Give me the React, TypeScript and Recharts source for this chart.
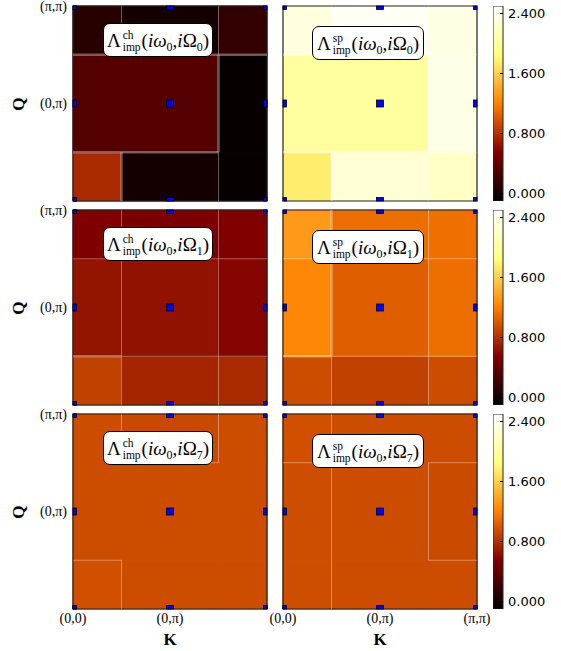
import React from 'react';
import { ScatterChart, Scatter, BarChart, Bar, XAxis, YAxis, ReferenceArea, ReferenceLine } from 'recharts';

// ─── Λ_imp vertex heat maps ──────────────────────────────────────
// 3x3 grid of K / Q points, afmhot colour map, one colorbar per row.

const kPos = [0, 0.5, 1];
const qPos = [0, 0.5, 1];
const kLabels = ['(0,0)', '(0,π)', '(π,π)'];
const qLabels = ['(0,0)', '(0,π)', '(π,π)'];

// rows: Q = (0,0), (0,π), (π,π) ; columns: K = (0,0), (0,π), (π,π)
const chOmega0 = [
  [0.76, 0.0, -0.07],
  [0.33, 0.33, -0.07],
  [0.1, 0.0, 0.16],
];
const spOmega0 = [
  [1.76, 2.29, 2.21],
  [2.01, 2.01, 2.37],
  [2.34, 2.45, 2.36],
];
const chOmega1 = [
  [0.88, 0.74, 0.76],
  [0.65, 0.64, 0.58],
  [0.54, 0.53, 0.55],
];
const spOmega1 = [
  [0.94, 0.88, 0.94],
  [1.24, 1.03, 1.11],
  [1.33, 1.11, 1.12],
];
const chOmega7 = [
  [0.96, 0.94, 0.94],
  [0.94, 0.94, 0.94],
  [0.94, 0.92, 0.94],
];
const spOmega7 = [
  [0.95, 0.94, 0.94],
  [0.95, 0.94, 0.93],
  [0.96, 0.94, 0.94],
];

const cbTicks = [0, 0.8, 1.6, 2.4];
const cbRange = [-0.1, 2.5];
const cbData = [{ name: 'Λ', range: cbRange }];

// layout
const PANEL_X = [73, 283];
const PANEL_Y = [6, 210, 414];
const W = 194;
const H = 195;
const CB_X = 493;
const CB_W = 10;
const TOP = 10;
const SERIF = '"Liberation Serif", "DejaVu Serif", serif';
const SANS = '"DejaVu Sans", sans-serif';

const panels = [
  { row: 0, col: 0, values: chOmega0, channel: 'ch', omega: '0' },
  { row: 0, col: 1, values: spOmega0, channel: 'sp', omega: '0' },
  { row: 1, col: 0, values: chOmega1, channel: 'ch', omega: '1' },
  { row: 1, col: 1, values: spOmega1, channel: 'sp', omega: '1' },
  { row: 2, col: 0, values: chOmega7, channel: 'ch', omega: '7' },
  { row: 2, col: 1, values: spOmega7, channel: 'sp', omega: '7' },
];

const clip01 = (v: number) => Math.max(0, Math.min(1, v));

// matplotlib afmhot
function afmhot(v: number) {
  const x = clip01((v - cbRange[0]) / (cbRange[1] - cbRange[0]));
  const r = Math.round(clip01(2 * x) * 255);
  const g = Math.round(clip01(2 * x - 0.5) * 255);
  const b = Math.round(clip01(2 * x - 1) * 255);
  return `rgb(${r},${g},${b})`;
}

// cell edges: half way between neighbouring points, clipped at the ends
const edges = (pos: number[]) =>
  pos.map((p, i) => [
    i === 0 ? p : (pos[i - 1] + p) / 2,
    i === pos.length - 1 ? p : (p + pos[i + 1]) / 2,
  ]);
const kEdges = edges(kPos);
const qEdges = edges(qPos);

const points = qPos.flatMap((q) => kPos.map((k) => ({ k, q })));

function seamStyle(diff: number) {
  return {
    stroke: 'rgba(255,255,255,0.35)',
    strokeWidth: diff > 0.2 ? 2.5 : 1,
  };
}

function Seams({ values }: { values: number[][] }) {
  const out: React.ReactNode[] = [];
  values.forEach((row, r) => {
    row.forEach((v, c) => {
      if (c < row.length - 1) {
        const d = Math.abs(v - row[c + 1]);
        if (d > 0.005) {
          const x = kEdges[c][1];
          out.push(
            <ReferenceLine
              key={`v${r}${c}`}
              segment={[{ x, y: qEdges[r][0] }, { x, y: qEdges[r][1] }]}
              {...seamStyle(d)}
            />
          );
        }
      }
      if (r < values.length - 1) {
        const d = Math.abs(v - values[r + 1][c]);
        if (d > 0.005) {
          const y = qEdges[r][1];
          out.push(
            <ReferenceLine
              key={`h${r}${c}`}
              segment={[{ x: kEdges[c][0], y }, { x: kEdges[c][1], y }]}
              {...seamStyle(d)}
            />
          );
        }
      }
    });
  });
  return out;
}

function TitleBox({ left, top, width, channel, omega }: any) {
  const sub: React.CSSProperties = { fontSize: 12, position: 'relative', top: 4 };
  return (
    <div
      style={{
        position: 'absolute',
        left,
        top,
        width,
        height: 34,
        boxSizing: 'border-box',
        border: '1px solid #000',
        borderRadius: 7,
        background: '#fff',
        display: 'flex',
        alignItems: 'center',
        justifyContent: 'center',
        fontFamily: SERIF,
        fontSize: 19,
        color: '#000',
        whiteSpace: 'nowrap',
        lineHeight: 1,
      }}
    >
      <span>Λ</span>
      <span
        style={{
          display: 'inline-flex',
          flexDirection: 'column',
          fontSize: 11.5,
          lineHeight: '12px',
          margin: '0 1px 0 2px',
          position: 'relative',
          top: 1,
        }}
      >
        <span>{channel}</span>
        <span>imp</span>
      </span>
      <span>
        (<i>iω</i>
        <span style={sub}>0</span>,<i>i</i>Ω<span style={sub}>{omega}</span>)
      </span>
    </div>
  );
}

function Panel({ row, col, values, channel, omega }: any) {
  const yw = col === 0 ? 70 : 20;
  const xh = row === 2 ? 30 : 1;
  const left = PANEL_X[col];
  const top = PANEL_Y[row];
  const showK = (i: number) => row === 2 && (col === 1 || i < 2);
  const showQ = (i: number) => col === 0 && i > 0;

  // blue K/Q markers, cut off at the frame like the original
  const marker = (p: any) => {
    const s = 3.5;
    const x0 = Math.max(p.cx - s, yw);
    const x1 = Math.min(p.cx + s, yw + W);
    const y0 = Math.max(p.cy - s, TOP);
    const y1 = Math.min(p.cy + s, TOP + H);
    return (
      <rect x={x0} y={y0} width={x1 - x0} height={y1 - y0} fill="#0000ff" stroke="#000" strokeWidth={0.8} />
    );
  };

  return (
    <div style={{ position: 'absolute', left: left - yw, top: top - TOP }}>
      <ScatterChart
        width={yw + W + 20}
        height={TOP + H + xh + 5}
        margin={{ top: TOP, right: 20, bottom: 5, left: 0 }}
      >
        <XAxis
          type="number"
          dataKey="k"
          domain={[0, 1]}
          ticks={kPos}
          interval={0}
          height={xh}
          tickSize={-4}
          tickMargin={8}
          axisLine={false}
          tickLine={{ stroke: '#000' }}
          tick={row === 2 ? { fill: '#000', fontSize: 14, fontFamily: SERIF } : false}
          tickFormatter={(v: number) => {
            const i = kPos.indexOf(v);
            return showK(i) ? kLabels[i] : '';
          }}
        />
        <XAxis
          xAxisId="top"
          orientation="top"
          mirror
          type="number"
          domain={[0, 1]}
          ticks={kPos}
          interval={0}
          tickSize={4}
          axisLine={false}
          tick={false}
          tickLine={{ stroke: '#000' }}
        />
        <YAxis
          type="number"
          dataKey="q"
          domain={[0, 1]}
          ticks={qPos}
          interval={0}
          width={yw}
          tickSize={-4}
          tickMargin={10}
          axisLine={false}
          tickLine={{ stroke: '#000' }}
          tick={col === 0 ? { fill: '#000', fontSize: 14, fontFamily: SERIF } : false}
          tickFormatter={(v: number) => {
            const i = qPos.indexOf(v);
            return showQ(i) ? qLabels[i] : '';
          }}
        />
        <YAxis
          yAxisId="right"
          orientation="right"
          mirror
          type="number"
          domain={[0, 1]}
          ticks={qPos}
          interval={0}
          tickSize={4}
          axisLine={false}
          tick={false}
          tickLine={{ stroke: '#000' }}
        />
        {values.map((rowVals: number[], r: number) =>
          rowVals.map((v, c) => (
            <ReferenceArea
              key={`c${r}${c}`}
              x1={kEdges[c][0]}
              x2={kEdges[c][1]}
              y1={qEdges[r][0]}
              y2={qEdges[r][1]}
              fill={afmhot(v)}
              fillOpacity={1}
              stroke={afmhot(v)}
              strokeWidth={1}
            />
          ))
        )}
        {Seams({ values })}
        <ReferenceArea x1={0} x2={1} y1={0} y2={1} fill="none" stroke="#222" strokeWidth={1.2} />
        <Scatter data={points} shape={marker} isAnimationActive={false} />
      </ScatterChart>
      <TitleBox
        left={yw + (col === 0 ? 30 : 29)}
        top={TOP + (col === 0 ? 17 : 20)}
        width={col === 0 ? 110 : 112}
        channel={channel}
        omega={omega}
      />
    </div>
  );
}

function ColorBar({ row }: { row: number }) {
  const top = PANEL_Y[row];
  const id = `afmhot-${row}`;
  return (
    <div style={{ position: 'absolute', left: CB_X, top: top - TOP }}>
      <BarChart
        width={CB_W + 60}
        height={TOP + H + 5}
        data={cbData}
        margin={{ top: TOP, right: 0, bottom: 5, left: 0 }}
        barCategoryGap={0}
      >
        <defs>
          <linearGradient id={id} x1="0" y1="1" x2="0" y2="0">
            <stop offset="0%" stopColor="rgb(0,0,0)" />
            <stop offset="25%" stopColor="rgb(128,0,0)" />
            <stop offset="50%" stopColor="rgb(255,128,0)" />
            <stop offset="75%" stopColor="rgb(255,255,128)" />
            <stop offset="100%" stopColor="rgb(255,255,255)" />
          </linearGradient>
        </defs>
        <XAxis dataKey="name" hide />
        <YAxis
          type="number"
          orientation="right"
          domain={cbRange}
          ticks={cbTicks}
          allowDataOverflow
          width={60}
          tickSize={-3}
          tickMargin={8}
          axisLine={false}
          tickLine={{ stroke: '#000' }}
          tick={{ fill: '#000', fontSize: 13, fontFamily: SANS }}
          tickFormatter={(v: number) => v.toFixed(3)}
        />
        <Bar
          dataKey="range"
          fill={`url(#${id})`}
          stroke="#222"
          strokeWidth={1}
          isAnimationActive={false}
        />
      </BarChart>
    </div>
  );
}

export default function App() {
  return (
    <div
      style={{
        position: 'absolute',
        left: 0,
        top: 0,
        width: 561,
        height: 651,
        background: '#fff',
        overflow: 'hidden',
      }}
    >
      {panels.map((p) => (
        <Panel key={`${p.row}-${p.col}`} {...p} />
      ))}
      {PANEL_Y.map((_, r) => (
        <ColorBar key={r} row={r} />
      ))}
      {PANEL_Y.map((y, r) => (
        <div
          key={`q${r}`}
          style={{
            position: 'absolute',
            left: 10,
            top: y + H / 2 - 10,
            width: 18,
            height: 20,
            transform: 'rotate(-90deg)',
            fontFamily: SERIF,
            fontWeight: 'bold',
            fontSize: 17,
            textAlign: 'center',
            lineHeight: '20px',
          }}
        >
          Q
        </div>
      ))}
      {PANEL_X.map((x, c) => (
        <div
          key={`k${c}`}
          style={{
            position: 'absolute',
            left: x + W / 2 - 10,
            top: 630,
            width: 20,
            textAlign: 'center',
            fontFamily: SERIF,
            fontWeight: 'bold',
            fontSize: 17,
            lineHeight: '20px',
          }}
        >
          K
        </div>
      ))}
    </div>
  );
}
